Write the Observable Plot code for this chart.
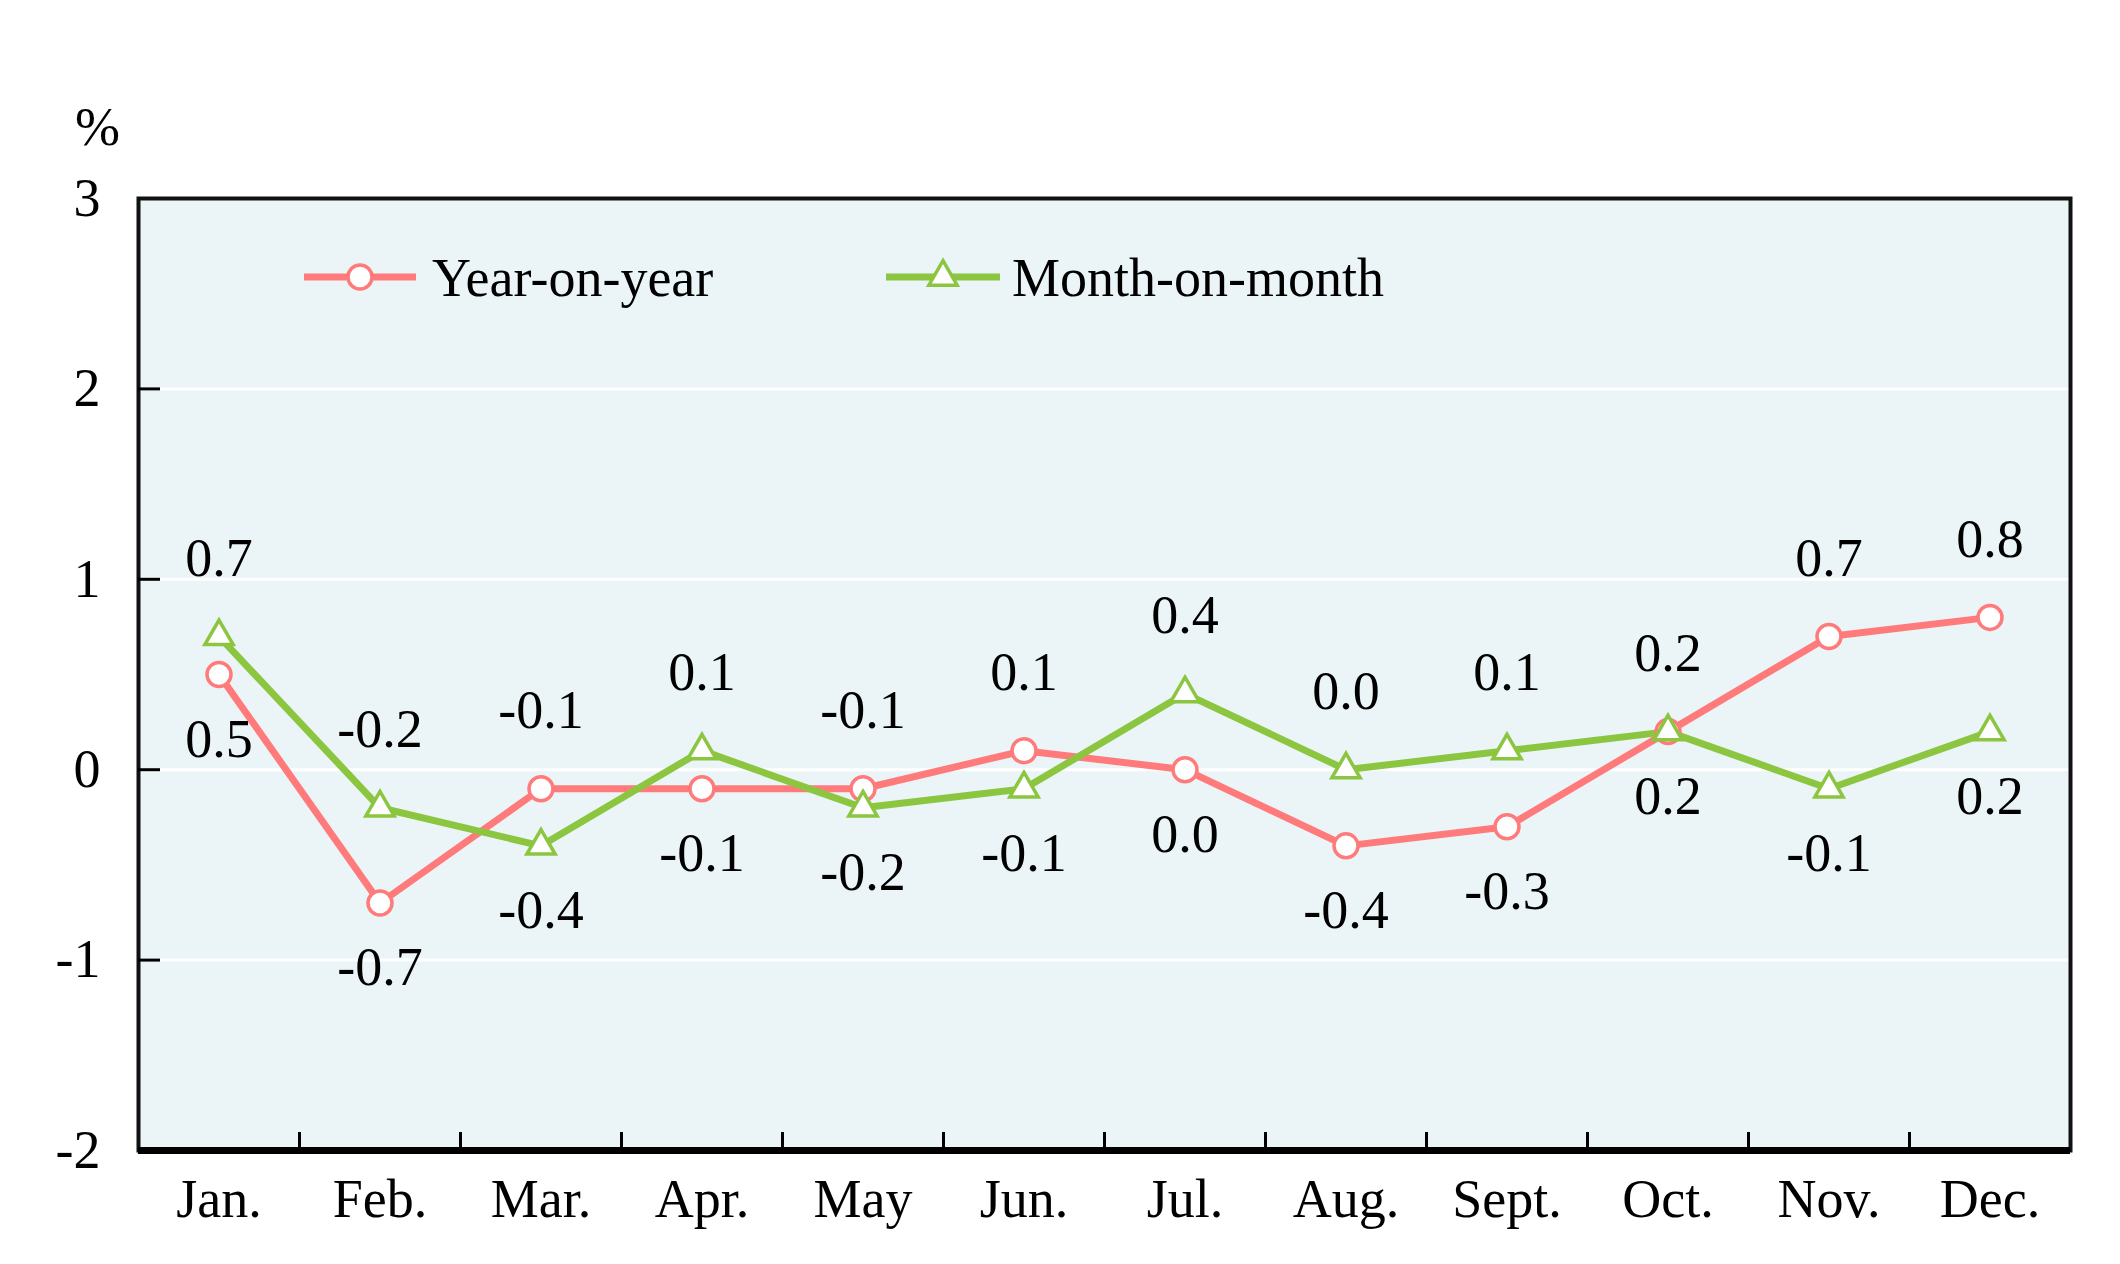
<!DOCTYPE html>
<html>
<head>
<meta charset="utf-8">
<script src="https://cdn.jsdelivr.net/npm/d3@7"></script>
<script src="https://cdn.jsdelivr.net/npm/@observablehq/plot@0.6"></script>
<style>
  html, body { margin: 0; padding: 0; background: #fff; }
  #wrap { position: relative; width: 2120px; height: 1264px; font-family: "Liberation Serif", "Times New Roman", serif; }
  #legend { position: absolute; left: 0; top: 0; width: 2120px; height: 1264px; pointer-events: none; }
</style>
</head>
<body>
<div id="wrap"></div>
<script>
const months = ["Jan.", "Feb.", "Mar.", "Apr.", "May", "Jun.", "Jul.", "Aug.", "Sept.", "Oct.", "Nov.", "Dec."];
const yoy = [0.5, -0.7, -0.1, -0.1, -0.1, 0.1, 0.0, -0.4, -0.3, 0.2, 0.7, 0.8];
const mom = [0.7, -0.2, -0.4, 0.1, -0.2, -0.1, 0.4, 0.0, 0.1, 0.2, -0.1, 0.2];
const yTicks = [-2, -1, 0, 1, 2, 3];
const seriesNames = ["Year-on-year", "Month-on-month"];

const RED = "#ff7b7b";
const GREEN = "#8cc640";
const BG = "#ebf5f8";
const FS = 54;

const rows = [];
months.forEach((m, i) => {
  rows.push({series: seriesNames[0], idx: i + 1, value: yoy[i], above: yoy[i] > mom[i]});
  rows.push({series: seriesNames[1], idx: i + 1, value: mom[i], above: mom[i] >= yoy[i]});
});
const yoyRows = rows.filter(d => d.series === seriesNames[0]);
const momRows = rows.filter(d => d.series === seriesNames[1]);
const fmtNum = v => (v < 0 ? "-" : "") + Math.abs(v).toFixed(1);
const fmtTick = v => (v < 0 ? "-" : "") + Math.abs(v);
const boundaries = d3.range(1.5, 12, 1);
const monthIdx = d3.range(1, 13);

const chart = Plot.plot({
  width: 2120,
  height: 1264,
  marginLeft: 138,
  marginRight: 50,
  marginTop: 198,
  marginBottom: 114,
  style: {fontFamily: "'Liberation Serif', 'Times New Roman', serif", fontSize: FS + "px", color: "#000", background: "#fff"},
  x: {domain: [0.5, 12.5]},
  y: {domain: [-2, 3]},
  marks: [
    Plot.frame({fill: BG, stroke: null}),
    Plot.ruleY(yTicks.slice(1, -1), {stroke: "#fff", strokeWidth: 3}),
    Plot.line(yoyRows, {x: "idx", y: "value", stroke: RED, strokeWidth: 7, strokeLinejoin: "round"}),
    Plot.line(momRows, {x: "idx", y: "value", stroke: GREEN, strokeWidth: 7, strokeLinejoin: "round"}),
    Plot.dot(yoyRows, {x: "idx", y: "value", r: 12, fill: "#fff", stroke: RED, strokeWidth: 3.5}),
    Plot.dot(momRows, {x: "idx", y: "value", r: 10.5, symbol: "triangle", fill: "#fff", stroke: GREEN, strokeWidth: 3.5}),
    Plot.text(rows.filter(d => d.above), {x: "idx", y: "value", text: d => fmtNum(d.value), dy: -78, fill: "#000", fontSize: FS}),
    Plot.text(rows.filter(d => !d.above), {x: "idx", y: "value", text: d => fmtNum(d.value), dy: 65, fill: "#000", fontSize: FS}),
    Plot.frame({stroke: "#111", strokeWidth: 4}),
    Plot.ruleY([-2], {stroke: "#000", strokeWidth: 7}),
    Plot.axisY({ticks: yTicks, tickSize: 0, tickPadding: 38, tickFormat: fmtTick, label: null, fontSize: FS}),
    Plot.axisY({ticks: yTicks.slice(1, -1), tickSize: -22, strokeWidth: 3, fill: "none", label: null}),
    Plot.axisX({ticks: monthIdx, tickSize: 0, tickPadding: 28, tickFormat: i => months[i - 1], label: null, fontSize: FS}),
    Plot.axisX({ticks: boundaries, tickSize: -18, strokeWidth: 3, fill: "none", label: null}),
    Plot.text(["%"], {frameAnchor: "top-left", textAnchor: "middle", lineAnchor: "middle", dx: -41, dy: -71, fontSize: FS, fill: "#000"})
  ]
});
document.getElementById("wrap").appendChild(chart);

// Legend overlay
const ns = "http://www.w3.org/2000/svg";
const leg = document.createElementNS(ns, "svg");
leg.setAttribute("id", "legend");
leg.setAttribute("width", 2120);
leg.setAttribute("height", 1264);
const legendItems = [
  {name: seriesNames[0], color: RED, x0: 304, x1: 416, sym: "circle", tx: 432},
  {name: seriesNames[1], color: GREEN, x0: 886, x1: 1000, sym: "triangle", tx: 1012}
];
const ly = 277;
legendItems.forEach(it => {
  const l = document.createElementNS(ns, "line");
  l.setAttribute("x1", it.x0); l.setAttribute("x2", it.x1);
  l.setAttribute("y1", ly); l.setAttribute("y2", ly);
  l.setAttribute("stroke", it.color); l.setAttribute("stroke-width", 7);
  leg.appendChild(l);
  const cx = (it.x0 + it.x1) / 2;
  if (it.sym === "circle") {
    const c = document.createElementNS(ns, "circle");
    c.setAttribute("cx", cx); c.setAttribute("cy", ly); c.setAttribute("r", 12);
    c.setAttribute("fill", "#fff"); c.setAttribute("stroke", it.color); c.setAttribute("stroke-width", 3.5);
    leg.appendChild(c);
  } else {
    const p = document.createElementNS(ns, "path");
    p.setAttribute("transform", `translate(${cx},${ly})`);
    p.setAttribute("d", d3.symbol(d3.symbolTriangle, Math.PI * 10.5 * 10.5)());
    p.setAttribute("fill", "#fff"); p.setAttribute("stroke", it.color); p.setAttribute("stroke-width", 3.5);
    leg.appendChild(p);
  }
  const t = document.createElementNS(ns, "text");
  t.setAttribute("x", it.tx); t.setAttribute("y", ly);
  t.setAttribute("dy", "0.35em");
  t.setAttribute("font-family", "'Liberation Serif', 'Times New Roman', serif");
  t.setAttribute("font-size", FS);
  t.setAttribute("fill", "#000");
  t.textContent = it.name;
  leg.appendChild(t);
});
document.getElementById("wrap").appendChild(leg);
</script>
</body>
</html>
